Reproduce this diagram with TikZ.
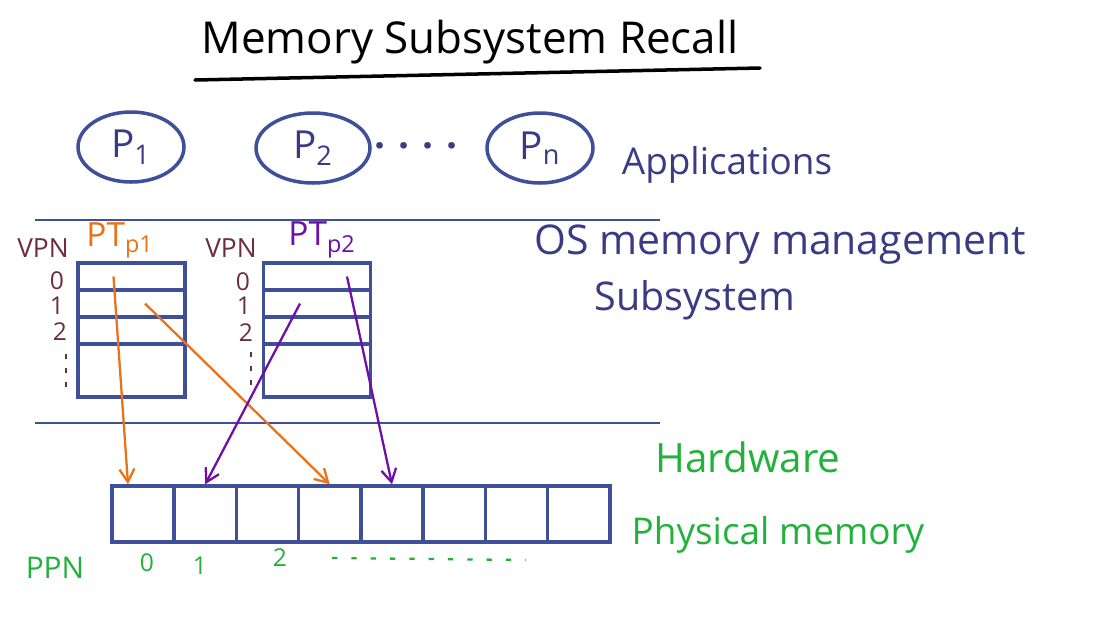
\documentclass[tikz,border=0pt]{standalone}
\usepackage{fontspec}
\setmainfont{Open Sans}
\usetikzlibrary{positioning, shapes.geometric, arrows.meta, calc}
\definecolor{ink}{HTML}{3F4F9A}
\definecolor{pen}{HTML}{3B3A85}
\definecolor{orng}{HTML}{E8731A}
\definecolor{purp}{HTML}{6E0FA8}
\definecolor{grn}{HTML}{22B23B}
\definecolor{vpnc}{HTML}{6B2E3E}

\begin{document}
\begin{tikzpicture}[x=0.02cm, y=-0.02cm,
  proc/.style={ellipse, draw=ink, line width=2pt, minimum height=1.4cm, text=pen, font=\fontsize{22}{24}\selectfont},
  row/.style={rectangle, draw=ink, line width=2pt, minimum width=2.14cm, inner sep=0pt},
  cell/.style={rectangle, draw=ink, line width=2pt, minimum width=1.245cm, minimum height=1.12cm, inner sep=0pt},
  layer/.style={draw=ink, line width=1.3pt},
  arrow/.style={-{Straight Barb[length=2.6mm, width=3mm]}, line width=1.3pt},
  label/.style={text=pen, font=\fontsize{21}{24}\selectfont, inner sep=0pt},
  hwlabel/.style={text=grn, font=\fontsize{21}{24}\selectfont, inner sep=0pt},
  vpn/.style={text=vpnc, font=\fontsize{15}{17}\selectfont, inner sep=0pt},
  small/.style={font=\fontsize{14}{16}\selectfont, inner sep=0pt}
]
  \fill[white] (0,0) rectangle (1098,620);
  \useasboundingbox (0,0) rectangle (1098,620);

  % title
  \node[font=\fontsize{25}{30}\selectfont, inner sep=0pt] (title) at (470,42) {Memory Subsystem Recall};
  \draw[line width=2pt, line cap=round] (195,80) -- (760,68);

  % applications
  \node[proc, minimum width=2.12cm] (p1) at (131,147) {P\textsubscript{1}};
  \node[proc, minimum width=2.28cm] (p2) at (313,148) {P\textsubscript{2}};
  \node[proc, minimum width=2.12cm] (pn) at (540,148) {P\textsubscript{n}};
  \node[label, font=\fontsize{22}{24}\selectfont\bfseries] (dots) at (416,146) {.\,\,.\,\,.\,\,.};
  \node[label] (apps) at (727,165) {Applications};

  \draw[layer] (35,220) -- (660,220);
  \draw[layer] (35,423) -- (660,423);

  \node[label, font=\fontsize{23.3}{28}\selectfont] (os) at (780,245) {OS memory management};
  \node[label, font=\fontsize{22.5}{28}\selectfont] (sub) at (695,300) {Subsystem};

  % page tables
  \foreach \t/\x in {1/131.5, 2/317} {
    \foreach \r/\y/\h in {0/276.5/0.54, 1/303.5/0.54, 2/330.5/0.54, 3/370.5/1.06} {
      \node[row, minimum height=\h cm] (pt\t-\r) at (\x,\y) {};
    }
  }
  \node[text=orng, font=\fontsize{19}{22}\selectfont, inner sep=0pt] (pt1) at (120,240) {PT\textsubscript{p1}};
  \node[text=purp, font=\fontsize{19}{22}\selectfont, inner sep=0pt] (pt2) at (322,240) {PT\textsubscript{p2}};

  \node[vpn] (vpn1) at (43,248) {VPN};
  \node[vpn] (vpn2) at (231,248) {VPN};
  \foreach \d/\x/\y in {0/57/281, 1/57/306, 2/60/332, 0/243/282, 1/244/306, 2/246/333} {
    \node[small, text=vpnc] at (\x,\y) {\d};
  }
  \draw[vpnc, line width=1.2pt, dash pattern=on 3pt off 5pt] (66,354) -- (66,396);
  \draw[vpnc, line width=1.2pt, dash pattern=on 3pt off 5pt] (251,352) -- (251,392);

  % physical memory
  \foreach \i in {0,...,7} {
    \node[cell] (m\i) at ({143+62.25*\i},514) {};
  }
  \node[hwlabel, font=\fontsize{23}{26}\selectfont] (hw) at (748,457) {Hardware};
  \node[hwlabel] (pm) at (778,535) {Physical memory};

  \node[small, text=grn, font=\fontsize{17}{20}\selectfont] (ppn) at (55,568) {PPN};
  \node[small, text=grn] (ppn0) at (147,563) {0};
  \node[small, text=grn] (ppn1) at (200,566) {1};
  \node[small, text=grn] (ppn2) at (280,558) {2};
  \draw[grn, line width=1.3pt, dash pattern=on 3pt off 8pt] (332,558) -- (526,560);

  % mappings
  \draw[arrow, orng] ($(pt1-0.center)+(-18,0)$) -- ($(m0.north)+(-15,0)$);
  \draw[arrow, orng] ($(pt1-1.center)+(13.5,0)$) -- (m3.north);
  \draw[arrow, purp] ($(pt2-1.center)+(-17,0)$) -- (m1.north);
  \draw[arrow, purp] ($(pt2-0.center)+(30,0)$) -- (m4.north);
\end{tikzpicture}
\end{document}
